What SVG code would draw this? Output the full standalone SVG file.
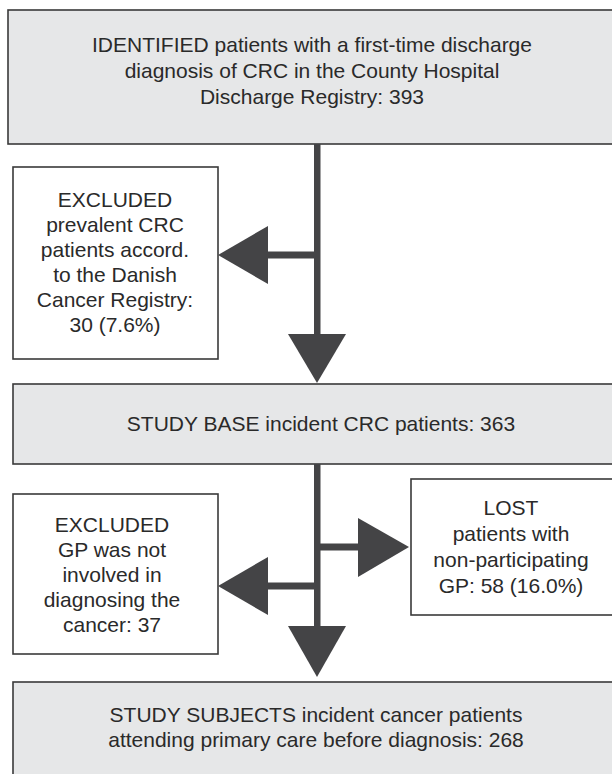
<svg xmlns="http://www.w3.org/2000/svg" width="612" height="774" viewBox="0 0 612 774">
<style>
.box{stroke:#3a3a3a;stroke-width:1.6}
.gray{fill:#e6e7e8}
.white{fill:#ffffff}
text{font-family:"Liberation Sans",Arial,sans-serif;font-size:21px;fill:#2a2a2a;text-anchor:middle}
.ar{fill:#444446;stroke:none}
</style>
<rect width="612" height="774" fill="#ffffff"/>
<g id="identified">
<rect class="box gray" x="8" y="10" width="610" height="134"/>
<text x="312" y="52">IDENTIFIED patients with a first-time discharge</text>
<text x="312" y="78">diagnosis of CRC in the County Hospital</text>
<text x="312" y="104">Discharge Registry: 393</text>
</g>
<g id="excluded1">
<rect class="box white" x="13" y="167" width="205" height="192"/>
<text x="115" y="207">EXCLUDED</text>
<text x="115" y="232">prevalent CRC</text>
<text x="115" y="257">patients accord.</text>
<text x="115" y="282">to the Danish</text>
<text x="115" y="307">Cancer Registry:</text>
<text x="115" y="332">30 (7.6%)</text>
</g>
<g id="studybase">
<rect class="box gray" x="13" y="384" width="605" height="80"/>
<text x="321" y="431">STUDY BASE incident CRC patients: 363</text>
</g>
<g id="excluded2">
<rect class="box white" x="13" y="494" width="205" height="160"/>
<text x="112" y="532">EXCLUDED</text>
<text x="112" y="557">GP was not</text>
<text x="112" y="582">involved in</text>
<text x="112" y="607">diagnosing the</text>
<text x="112" y="632">cancer: 37</text>
</g>
<g id="lost">
<rect class="box white" x="411" y="479" width="207" height="136"/>
<text x="511" y="515">LOST</text>
<text x="511" y="541">patients with</text>
<text x="511" y="567">non-participating</text>
<text x="511" y="593">GP: 58 (16.0%)</text>
</g>
<g id="subjects">
<rect class="box gray" x="13" y="682" width="605" height="100"/>
<text x="316" y="722">STUDY SUBJECTS incident cancer patients</text>
<text x="316" y="747">attending primary care before diagnosis: 268</text>
</g>
<g id="connectors">
<rect class="ar" x="314" y="144" width="6.5" height="191"/>
<rect class="ar" x="266" y="251.5" width="52" height="7"/>
<polygon class="ar" points="218,255 268,226 268,284"/>
<polygon class="ar" points="288,334 346,334 317,383"/>
<rect class="ar" x="314" y="464" width="6.5" height="163"/>
<rect class="ar" x="317" y="543.5" width="43" height="7"/>
<polygon class="ar" points="358,518 358,577 409,547"/>
<rect class="ar" x="266" y="582.5" width="52" height="7"/>
<polygon class="ar" points="218,586 268,557 268,615"/>
<polygon class="ar" points="288,626 346,626 317,677"/>
</g>
</svg>
